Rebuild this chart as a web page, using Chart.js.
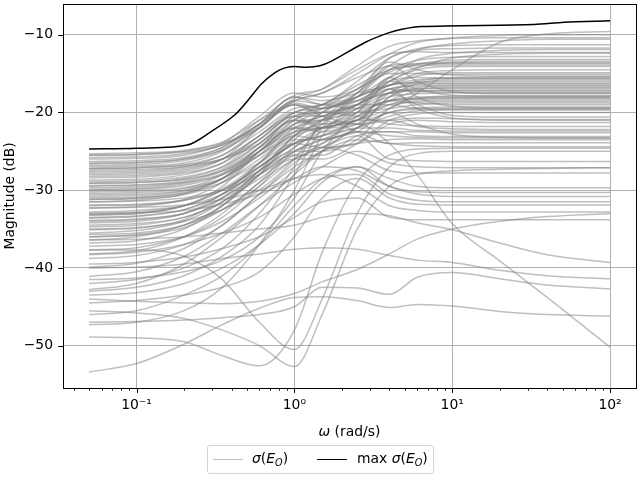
<!DOCTYPE html>
<html>
<head>
<meta charset="utf-8">
<script src="https://cdn.jsdelivr.net/npm/chart.js@4"></script>
<style>
  body { margin:0; background:#fff; font-family:'DejaVu Sans', sans-serif; }
  #wrap { position:relative; width:640px; height:480px; }
  #xtitle { position:absolute; left:0; width:699px; top:423px; text-align:center; font-size:13.9px; color:#000; }
  #legend { position:absolute; left:207px; top:445px; width:225px; height:27px; border:1px solid #d5d5d5; border-radius:3px; font-size:13.9px; color:#000; }
  .swatch { position:absolute; top:13px; width:30px; height:0; border-top-width:1.5px; border-top-style:solid; }
  .lab { position:absolute; top:4px; white-space:nowrap; }
  .lab sub { font-size:9.7px; vertical-align:-3px; }
</style>
</head>
<body>
<div id="wrap">
  <canvas id="c" width="640" height="480"></canvas>
  <div id="xtitle"><i>ω</i> (rad/s)</div>
  <div id="legend">
    <span class="swatch" style="left:5px;border-top-color:rgba(128,128,128,0.5)"></span>
    <span class="lab" style="left:44px"><i>σ</i>(<i>E</i><sub><i>O</i></sub>)</span>
    <span class="swatch" style="left:109px;border-top-color:#000"></span>
    <span class="lab" style="left:149px">max <i>σ</i>(<i>E</i><sub><i>O</i></sub>)</span>
  </div>
</div>
<script>
(function(){
  // frequency grid (rad/s) shared by the sigma curves
  const freq = [0.05, 0.1, 0.2, 0.35, 0.6, 1, 1.5, 2.5, 4, 6, 10, 20, 40, 100];

  // singular value curves (dB)
  const sig01 = [-25.3,-25.2,-24.9,-23.8,-21.0,-18.5,-17.5,-15.0,-12.5,-11.0,-10.4,-10.1,-10.0,-10.0];
  const sig02 = [-26.0,-25.9,-25.5,-24.0,-20.5,-17.5,-18.0,-17.0,-14.0,-12.0,-11.2,-10.8,-10.6,-10.6];
  const sig03 = [-27.2,-27.1,-26.7,-25.5,-22.5,-19.5,-19.0,-16.0,-13.0,-11.8,-11.4,-11.3,-11.3,-11.3];
  const sig04 = [-30.6,-30.5,-30.0,-28.5,-25.5,-23.0,-22.0,-21.0,-19.5,-17.5,-14.5,-11.0,-9.9,-9.6];
  const sig05 = [-28.2,-28.1,-27.6,-26.0,-22.0,-19.0,-20.0,-19.0,-15.5,-13.2,-12.4,-12.0,-11.9,-11.9];
  const sig06 = [-26.6,-26.5,-26.0,-24.5,-21.0,-17.8,-17.0,-14.5,-12.5,-12.2,-12.3,-12.3,-12.3,-12.3];
  const sig07 = [-29.1,-29.0,-28.5,-27.0,-23.5,-20.5,-20.5,-18.0,-14.5,-13.3,-12.9,-12.8,-12.8,-12.8];
  const sig08 = [-31.5,-31.3,-30.5,-28.5,-24.5,-21.0,-19.5,-17.0,-14.8,-13.8,-13.3,-13.2,-13.2,-13.2];
  const sig09 = [-27.6,-27.5,-27.0,-25.5,-22.0,-18.5,-17.5,-15.5,-14.0,-13.7,-13.6,-13.6,-13.6,-13.6];
  const sig10 = [-32.3,-32.1,-31.2,-29.0,-25.0,-21.5,-21.0,-19.5,-16.0,-14.5,-14.1,-14.1,-14.1,-14.1];
  const sig11 = [-28.7,-28.6,-28.0,-26.5,-23.0,-20.0,-19.5,-18.5,-16.5,-15.0,-14.6,-14.5,-14.5,-14.5];
  const sig12 = [-33.2,-33.0,-32.0,-29.5,-25.0,-21.0,-19.0,-17.5,-16.5,-15.3,-14.9,-14.9,-14.9,-14.9];
  const sig13 = [-29.7,-29.6,-29.0,-27.5,-24.5,-22.0,-22.5,-21.0,-17.5,-16.0,-15.5,-15.4,-15.4,-15.4];
  const sig14 = [-34.2,-34.0,-33.0,-30.5,-26.5,-23.5,-23.5,-22.0,-18.0,-16.3,-15.8,-15.8,-15.8,-15.8];
  const sig15 = [-26.3,-26.2,-25.8,-24.5,-21.5,-19.0,-19.5,-18.0,-16.5,-16.2,-16.2,-16.2,-16.2,-16.2];
  const sig16 = [-31.0,-30.9,-30.3,-28.5,-25.0,-22.5,-22.0,-19.5,-17.5,-16.8,-16.6,-16.6,-16.6,-16.6];
  const sig17 = [-35.1,-34.9,-33.8,-31.0,-27.0,-24.0,-23.0,-21.0,-18.5,-17.3,-17.1,-17.1,-17.1,-17.1];
  const sig18 = [-27.8,-27.7,-27.2,-26.0,-23.0,-20.0,-20.5,-19.5,-18.0,-17.6,-17.5,-17.5,-17.5,-17.5];
  const sig19 = [-36.8,-36.5,-35.0,-32.0,-27.5,-24.5,-22.0,-20.0,-18.5,-18.0,-18.0,-18.0,-18.0,-18.0];
  const sig20 = [-32.8,-32.6,-32.0,-30.5,-27.5,-25.0,-25.0,-23.5,-19.5,-18.5,-18.4,-18.4,-18.4,-18.4];
  const sig21 = [-29.1,-29.0,-28.6,-27.5,-25.0,-22.0,-21.0,-20.0,-19.5,-19.0,-18.8,-18.8,-18.8,-18.8];
  const sig22 = [-38.2,-37.8,-36.0,-33.0,-29.0,-26.0,-24.5,-22.0,-20.0,-19.4,-19.3,-19.3,-19.3,-19.3];
  const sig23 = [-31.9,-31.8,-31.3,-30.0,-27.0,-24.0,-23.0,-22.0,-20.5,-19.8,-19.7,-19.7,-19.7,-19.7];
  const sig24 = [-34.7,-34.5,-33.5,-31.5,-28.5,-26.0,-26.0,-24.0,-21.0,-20.2,-20.0,-20.0,-20.0,-20.0];
  const sig25 = [-25.5,-25.4,-25.0,-24.0,-22.0,-19.0,-20.5,-21.5,-21.0,-20.7,-20.8,-20.9,-20.9,-20.9];
  const sig26 = [-30.2,-30.1,-29.7,-28.5,-25.5,-21.5,-20.0,-20.5,-21.5,-21.7,-21.8,-21.8,-21.8,-21.8];
  const sig27 = [-36.4,-36.0,-34.5,-32.0,-28.0,-25.0,-24.0,-21.0,-21.0,-21.8,-22.1,-22.2,-22.2,-22.2];
  const sig28 = [-33.6,-33.4,-32.5,-30.5,-27.5,-25.5,-25.5,-23.0,-22.5,-22.5,-22.6,-22.6,-22.6,-22.6];
  const sig29 = [-42.8,-42.0,-39.5,-36.0,-32.0,-28.0,-25.0,-22.5,-22.5,-23.0,-23.1,-23.1,-23.1,-23.1];
  const sig30 = [-37.2,-37.0,-36.0,-34.0,-31.0,-27.5,-25.0,-24.0,-23.5,-23.4,-23.5,-23.5,-23.5,-23.5];
  const sig31 = [-27.2,-27.1,-26.8,-26.0,-24.0,-21.0,-21.0,-22.5,-24.0,-23.9,-23.9,-23.9,-23.9,-23.9];
  const sig32 = [-39.9,-39.4,-37.5,-34.5,-30.5,-27.0,-25.0,-23.5,-24.0,-24.3,-24.4,-24.4,-24.4,-24.4];
  const sig33 = [-35.7,-35.5,-34.5,-32.5,-29.5,-26.0,-24.5,-23.0,-26.0,-26.2,-26.3,-26.3,-26.3,-26.3];
  const sig34 = [-41.1,-40.5,-38.5,-35.5,-32.0,-29.0,-27.0,-25.0,-26.5,-27.0,-27.1,-27.1,-27.1,-27.1];
  const sig35 = [-31.5,-31.4,-31.0,-30.0,-28.0,-25.5,-24.5,-25.5,-27.5,-27.8,-27.8,-27.8,-27.8,-27.8];
  const sig36 = [-43.5,-43.2,-42.0,-40.0,-37.0,-33.0,-29.0,-27.0,-28.5,-29.5,-29.7,-29.7,-29.7,-29.7];
  const sig37 = [-33.0,-32.9,-32.6,-31.8,-30.5,-28.5,-27.0,-27.5,-29.5,-30.2,-30.3,-30.3,-30.3,-30.3];
  const sig38 = [-46.0,-45.5,-43.5,-41.0,-37.0,-32.0,-28.5,-27.0,-29.5,-30.5,-30.8,-30.8,-30.8,-30.8];
  const sig39 = [-38.3,-38.0,-37.0,-35.5,-33.5,-30.5,-28.5,-28.0,-30.5,-31.3,-31.5,-31.5,-31.5,-31.5];
  const sig40 = [-44.5,-44.2,-43.5,-42.5,-40.5,-36.0,-31.0,-28.5,-31.0,-31.8,-31.9,-31.9,-31.9,-31.9];
  const sig41 = [-32.3,-32.2,-31.9,-31.2,-30.0,-28.5,-28.0,-29.5,-32.0,-32.6,-32.8,-32.8,-32.8,-32.8];
  const sig42 = [-39.5,-39.3,-38.6,-37.5,-36.0,-33.5,-31.5,-31.0,-33.5,-33.8,-33.8,-33.8,-33.8,-33.8];
  const sig43 = [-42.0,-41.5,-40.0,-37.5,-33.0,-27.0,-21.0,-18.0,-16.5,-15.8,-15.6,-15.6,-15.6,-15.6];
  const sig44 = [-47.3,-47.0,-45.5,-42.5,-37.0,-30.0,-23.0,-19.0,-17.5,-17.0,-16.9,-16.9,-16.9,-16.9];
  const sig45 = [-43.0,-42.5,-41.0,-38.5,-34.5,-28.0,-22.0,-17.5,-14.5,-13.8,-13.7,-13.7,-13.7,-13.7];
  const sig46 = [-41.5,-41.3,-40.5,-39.0,-36.0,-31.0,-25.0,-20.5,-18.5,-18.3,-18.2,-18.2,-18.2,-18.2];
  const sig47 = [-35.0,-34.8,-34.0,-32.5,-30.0,-26.0,-21.5,-19.0,-19.0,-19.5,-19.6,-19.6,-19.6,-19.6];
  const sig48 = [-26.8,-26.7,-26.2,-24.8,-21.5,-18.0,-19.0,-18.0,-14.0,-16.0,-17.3,-17.6,-17.6,-17.6];
  const sig49 = [-28.4,-28.3,-27.8,-26.5,-23.5,-20.5,-22.0,-20.0,-15.5,-18.0,-19.2,-19.4,-19.4,-19.4];
  const sig50 = [-30.4,-30.3,-29.8,-28.0,-24.5,-21.0,-22.0,-21.5,-17.0,-19.5,-20.7,-21.0,-21.0,-21.0];
  const sig51 = [-25.8,-25.7,-25.3,-24.2,-21.5,-18.0,-18.5,-17.0,-13.5,-14.5,-15.2,-15.3,-15.3,-15.3];
  const sig52 = [-33.9,-33.7,-33.0,-31.0,-27.5,-23.0,-21.5,-21.0,-17.5,-19.0,-20.4,-20.6,-20.6,-20.6];
  const sig53 = [-37.7,-37.4,-36.0,-33.5,-29.5,-25.0,-23.5,-22.5,-20.0,-21.5,-22.8,-23.2,-23.3,-23.3];
  const sig54 = [-29.4,-29.3,-28.8,-27.3,-24.0,-20.5,-20.0,-19.0,-17.0,-16.4,-16.3,-16.3,-16.3,-16.3];
  const sig55 = [-31.2,-31.1,-30.6,-29.0,-26.0,-22.5,-20.0,-17.5,-15.0,-15.0,-15.1,-15.1,-15.1,-15.1];
  const sig56 = [-34.5,-34.3,-33.5,-31.5,-28.0,-23.5,-21.0,-19.0,-16.0,-17.0,-17.8,-17.9,-17.9,-17.9];
  const sig57 = [-36.0,-35.8,-34.8,-32.5,-29.0,-24.5,-22.5,-20.5,-18.5,-18.8,-19.0,-19.0,-19.0,-19.0];
  const sig58 = [-48.9,-49.0,-49.5,-51.3,-52.6,-48.0,-38.0,-29.0,-25.5,-24.7,-24.6,-24.6,-24.6,-24.6];
  const sig59 = [-45.5,-45.8,-46.5,-48.0,-50.0,-52.7,-46.0,-35.0,-29.5,-28.0,-27.5,-27.3,-27.2,-27.1];
  const sig60 = [-53.4,-52.3,-49.8,-47.3,-45.2,-43.8,-43.7,-44.2,-45.1,-44.7,-44.9,-45.6,-46.0,-46.2];
  const sig61 = [-37.7,-37.7,-38.5,-41.5,-47.0,-50.5,-44.0,-33.0,-27.0,-25.3,-25.0,-25.0,-25.0,-25.0];
  const sig62 = [-47.0,-46.9,-46.7,-46.4,-46.0,-45.0,-42.5,-42.6,-43.4,-41.2,-40.6,-41.4,-42.2,-42.7];
  const sig63 = [-40.0,-39.9,-39.5,-38.8,-38.2,-37.6,-37.4,-37.6,-38.4,-39.0,-39.3,-40.3,-41.0,-41.4];
  const sig64 = [-44.0,-44.3,-44.5,-44.6,-44.3,-43.3,-41.8,-40.2,-38.2,-36.3,-35.0,-34.0,-33.4,-33.0];
  const sig65 = [-33.2,-33.0,-32.0,-30.0,-27.0,-24.0,-22.0,-21.5,-24.0,-28.0,-34.3,-39.1,-43.8,-50.2];
  const sig66 = [-36.4,-36.3,-36.0,-35.5,-35.0,-34.5,-33.5,-33.0,-33.3,-34.2,-35.1,-36.8,-38.3,-39.3];
  const sig67 = [-25.5,-25.4,-25.1,-24.2,-21.5,-18.2,-17.0,-14.0,-11.5,-10.8,-10.5,-10.4,-10.4,-10.4];
  const sig68 = [-27.0,-26.9,-26.5,-25.0,-21.8,-18.8,-19.5,-17.5,-13.0,-12.0,-11.8,-11.7,-11.7,-11.7];
  const sig69 = [-28.0,-27.9,-27.4,-26.0,-23.0,-20.0,-19.0,-16.5,-14.5,-14.0,-13.9,-13.9,-13.9,-13.9];
  const sig70 = [-29.9,-29.8,-29.2,-27.8,-24.5,-21.0,-21.5,-20.0,-16.0,-15.5,-15.6,-15.6,-15.6,-15.6];
  const sig71 = [-30.8,-30.7,-30.1,-28.5,-25.0,-21.5,-20.5,-18.5,-16.5,-16.1,-16.0,-16.0,-16.0,-16.0];
  const sig72 = [-33.5,-33.3,-32.5,-30.5,-26.5,-22.0,-20.5,-19.0,-17.0,-16.6,-16.5,-16.5,-16.5,-16.5];
  const sig73 = [-32.0,-31.9,-31.3,-29.8,-26.5,-23.0,-23.5,-22.0,-18.0,-17.0,-16.8,-16.8,-16.8,-16.8];
  const sig74 = [-28.9,-28.8,-28.3,-27.0,-24.0,-20.5,-19.5,-18.5,-17.5,-17.2,-17.2,-17.2,-17.2,-17.2];
  const sig75 = [-35.5,-35.2,-34.0,-31.5,-27.5,-23.0,-21.0,-19.0,-17.0,-17.3,-17.4,-17.4,-17.4,-17.4];
  const sig76 = [-26.5,-26.4,-26.0,-24.8,-22.0,-18.5,-19.0,-19.5,-18.5,-18.2,-18.1,-18.1,-18.1,-18.1];
  const sig77 = [-30.0,-29.9,-29.4,-28.0,-25.0,-22.0,-22.0,-20.5,-19.0,-18.7,-18.6,-18.6,-18.6,-18.6];
  const sig78 = [-33.0,-32.8,-32.0,-30.0,-27.0,-24.0,-23.0,-21.5,-20.0,-19.6,-19.5,-19.5,-19.5,-19.5];
  const sig79 = [-27.4,-27.3,-27.0,-26.0,-23.5,-20.0,-19.0,-18.0,-16.0,-14.3,-13.0,-12.5,-12.4,-12.4];
  const sig80 = [-36.0,-35.7,-34.5,-32.0,-28.0,-23.0,-20.0,-18.0,-15.5,-14.2,-13.5,-13.4,-13.4,-13.4];
  const sig81 = [-31.2,-31.0,-30.4,-29.0,-26.5,-24.0,-24.5,-24.0,-21.5,-21.0,-21.2,-21.3,-21.3,-21.3];
  const sig82 = [-34.0,-33.8,-33.0,-31.0,-28.0,-25.0,-23.5,-22.0,-22.0,-22.3,-22.4,-22.4,-22.4,-22.4];
  const sig83 = [-38.8,-38.4,-37.0,-34.5,-30.5,-26.5,-24.0,-22.5,-23.0,-23.2,-23.3,-23.3,-23.3,-23.3];
  const sig84 = [-29.5,-29.4,-29.0,-28.0,-25.5,-22.5,-22.0,-21.0,-19.0,-18.2,-17.9,-17.9,-17.9,-17.9];

  const sigmaCurves = [sig01,sig02,sig03,sig04,sig05,sig06,sig07,sig08,sig09,sig10,sig11,sig12,sig13,sig14,sig15,sig16,sig17,sig18,sig19,sig20,
    sig21,sig22,sig23,sig24,sig25,sig26,sig27,sig28,sig29,sig30,sig31,sig32,sig33,sig34,sig35,sig36,sig37,sig38,sig39,sig40,
    sig41,sig42,sig43,sig44,sig45,sig46,sig47,sig48,sig49,sig50,sig51,sig52,sig53,sig54,sig55,sig56,sig57,sig58,sig59,sig60,
    sig61,sig62,sig63,sig64,sig65,sig66,sig67,sig68,sig69,sig70,sig71,sig72,sig73,sig74,sig75,sig76,sig77,sig78,sig79,sig80,
    sig81,sig82,sig83,sig84];

  // envelope (max sigma)
  const maxFreq = [0.05, 0.1, 0.21, 0.3, 0.42, 0.51, 0.62, 0.75, 0.86, 1, 1.2, 1.45, 1.72, 2.8, 3.9, 4.8, 6.4, 33, 51, 100];
  const maxSigma = [-24.7, -24.6, -24.2, -22.4, -20.3, -18.4, -16.3, -14.9, -14.3, -14.1, -14.2, -14.0, -13.4, -11.0, -9.8, -9.3, -8.95, -8.7, -8.4, -8.2];

  const majorX = [0.1, 1, 10, 100];
  const yTicks = [-50, -40, -30, -20, -10];

  const supMap = {'-':'\u207B','0':'\u2070','1':'\u00B9','2':'\u00B2','3':'\u00B3'};
  const sup = n => String(n).split('').map(ch=>supMap[ch]||ch).join('');

  Chart.defaults.font.family = "'DejaVu Sans', sans-serif";
  Chart.defaults.font.size = 13.9;
  Chart.defaults.color = '#000';

  const datasets = [{
    data: maxFreq.map((x,i)=>({x, y:maxSigma[i]})),
    borderColor:'#000', borderWidth:1.5, pointRadius:0, order:0, tension:0.3
  }];
  sigmaCurves.forEach(s=>{
    datasets.push({
      data: freq.map((x,i)=>({x, y:s[i]})),
      borderColor:'rgba(128,128,128,0.5)', borderWidth:1.5, pointRadius:0, order:1,
      cubicInterpolationMode:'monotone'
    });
  });

  // frame, major and minor ticks like matplotlib
  const frame = {
    id:'frame',
    afterDraw(chart){
      const {ctx, chartArea:a, scales:{x, y}} = chart;
      ctx.save();
      ctx.strokeStyle = '#000';
      ctx.lineWidth = 0.8;
      for(let e=-2;e<=2;e++) for(let m=2;m<=9;m++){
        const v = m*Math.pow(10,e);
        if(v<x.min || v>x.max) continue;
        const px = Math.round(x.getPixelForValue(v))+0.5;
        ctx.beginPath(); ctx.moveTo(px,a.bottom); ctx.lineTo(px,a.bottom+2.8); ctx.stroke();
      }
      ctx.lineWidth = 1;
      majorX.forEach(v=>{
        const px = Math.round(x.getPixelForValue(v))+0.5;
        ctx.beginPath(); ctx.moveTo(px,a.bottom); ctx.lineTo(px,a.bottom+4.9); ctx.stroke();
      });
      yTicks.forEach(v=>{
        const py = Math.round(y.getPixelForValue(v))+0.5;
        ctx.beginPath(); ctx.moveTo(a.left,py); ctx.lineTo(a.left-4.9,py); ctx.stroke();
      });
      ctx.strokeRect(Math.round(a.left)+0.5, Math.round(a.top)+0.5, Math.round(a.right-a.left), Math.round(a.bottom-a.top));
      ctx.restore();
    }
  };

  new Chart(document.getElementById('c'), {
    type:'line',
    data:{ datasets },
    options:{
      responsive:false, animation:false, devicePixelRatio:1,
      layout:{ padding:{ top:4, right:4, left:0, bottom:0 } },
      plugins:{ legend:{ display:false }, tooltip:{ enabled:false } },
      scales:{
        x:{
          type:'logarithmic', min:0.0342, max:146,
          afterBuildTicks: s=>{ s.ticks = majorX.map(v=>({value:v})); },
          afterFit: s=>{ s.height = 92; s.paddingLeft = 0; s.paddingRight = 0; },
          grid:{ color:'#b0b0b0', lineWidth:1, drawTicks:false },
          border:{ display:false },
          ticks:{ autoSkip:false, maxRotation:0, padding:9,
            callback: v => '10'+sup(Math.round(Math.log10(v))) }
        },
        y:{
          min:-55.45, max:-6.05,
          afterBuildTicks: s=>{ s.ticks = yTicks.map(v=>({value:v})); },
          afterFit: s=>{ s.width = 63; s.paddingTop = 0; s.paddingBottom = 0; },
          grid:{ color:'#b0b0b0', lineWidth:1, drawTicks:false },
          border:{ display:false },
          title:{ display:true, text:'Magnitude (dB)', padding:{top:2,bottom:0} },
          ticks:{ padding:10, callback: v => '\u2212'+Math.abs(v) }
        }
      }
    },
    plugins:[frame]
  });
})();
</script>
</body>
</html>
